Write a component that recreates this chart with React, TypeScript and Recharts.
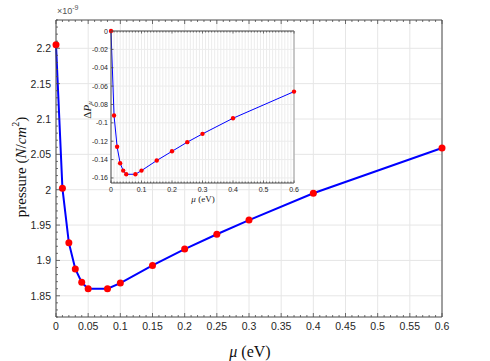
import { CartesianGrid, Label, Line, LineChart, XAxis, YAxis } from "recharts";

// chemical potential values (eV)
const muValues = [0, 0.01, 0.02, 0.03, 0.04, 0.05, 0.08, 0.1, 0.15, 0.2, 0.25, 0.3, 0.4, 0.6];
// pressure, in units of 1e-9 N/cm^2
const pressureValues = [2.205, 2.002, 1.925, 1.888, 1.869, 1.86, 1.86, 1.868, 1.893, 1.916, 1.937, 1.957, 1.995, 2.059];
// relative change of pressure (inset)
const deltaValues = [0, -0.092, -0.126, -0.144, -0.152, -0.156, -0.156, -0.152, -0.141, -0.131, -0.121, -0.112, -0.095, -0.066];

const mainXMajor = [0, 0.05, 0.1, 0.15, 0.2, 0.25, 0.3, 0.35, 0.4, 0.45, 0.5, 0.55, 0.6];
const mainYMajor = [1.85, 1.9, 1.95, 2, 2.05, 2.1, 2.15, 2.2];
const insetXMajor = [0, 0.1, 0.2, 0.3, 0.4, 0.5, 0.6];
const insetYMajor = [-0.16, -0.14, -0.12, -0.1, -0.08, -0.06, -0.04, -0.02, 0];

const data = muValues.map((mu, i) => ({
    mu,
    pressure: pressureValues[i],
    delta: deltaValues[i],
}));

function stepTicks(from: number, to: number, step: number) {
    const n = Math.round((to - from) / step);
    return Array.from({ length: n + 1 }, (_, i) => +(from + i * step).toFixed(4));
}

const mainXMinor = stepTicks(0, 0.6, 0.01);
const mainYMinor = stepTicks(1.82, 2.24, 0.01);
const insetXMinor = stepTicks(0, 0.6, 0.01);

const SANS = "'Liberation Sans', Arial, sans-serif";
const SERIF = "'Liberation Serif', 'Times New Roman', serif";
const AXIS = "#4a4a4a";

type Side = "bottom" | "top" | "left" | "right";

function makeTick(
    side: Side,
    majors: number[],
    opts: { major: number; minor: number; fontSize: number; gap: number; label: boolean }
) {
    return (props: any) => {
        const { x, y, payload } = props;
        const v = payload.value as number;
        const isMajor = majors.some((m) => Math.abs(m - v) < 1e-7);
        const len = isMajor ? opts.major : opts.minor;
        let line = null;
        let text = null;
        const txt = isMajor && opts.label ? String(v) : "";
        if (side === "bottom") {
            line = <line x1={x} x2={x} y1={y} y2={y - len} stroke={AXIS} strokeWidth={0.8} />;
            text = (
                <text x={x} y={y + opts.gap} textAnchor="middle" dominantBaseline="central"
                    fontSize={opts.fontSize} fontFamily={SANS} fill="#262626">{txt}</text>
            );
        } else if (side === "top") {
            line = <line x1={x} x2={x} y1={y} y2={y + len} stroke={AXIS} strokeWidth={0.8} />;
        } else if (side === "left") {
            line = <line x1={x} x2={x + len} y1={y} y2={y} stroke={AXIS} strokeWidth={0.8} />;
            text = (
                <text x={x - opts.gap} y={y} textAnchor="end" dominantBaseline="central"
                    fontSize={opts.fontSize} fontFamily={SANS} fill="#262626">{txt}</text>
            );
        } else {
            line = <line x1={x} x2={x - len} y1={y} y2={y} stroke={AXIS} strokeWidth={0.8} />;
        }
        return (
            <g>
                {line}
                {txt ? text : null}
            </g>
        );
    };
}

function MainChart() {
    const tickOpts = { major: 4, minor: 2, fontSize: 10.5, gap: 9, label: true };
    const mirrorOpts = { ...tickOpts, label: false };
    return (
        <LineChart width={490} height={361} data={data} margin={{ top: 19, right: 47, bottom: 0, left: 0 }}>
            <CartesianGrid stroke="#e6e6e6" horizontalValues={mainYMajor} verticalValues={mainXMajor} />
            <XAxis dataKey="mu" type="number" domain={[0, 0.6]} ticks={mainXMinor} interval={0}
                height={44} tickSize={0} tickMargin={0} stroke={AXIS}
                tick={makeTick("bottom", mainXMajor, tickOpts)}>
                <Label content={() => (
                    <text x={250} y={351} textAnchor="middle" dominantBaseline="central"
                        fontFamily={SERIF} fontSize={16} fill="#111">
                        <tspan fontStyle="italic">μ</tspan> (eV)
                    </text>
                )} />
            </XAxis>
            <XAxis xAxisId="top" orientation="top" dataKey="mu" type="number" domain={[0, 0.6]}
                ticks={mainXMinor} interval={0} height={1} tickSize={0} tickMargin={0} stroke={AXIS}
                tick={makeTick("top", mainXMajor, mirrorOpts)}>
                <Label content={() => (
                    <text x={57} y={14} fontFamily={SANS} fontSize={9} fill="#555">
                        ×10<tspan dy={-4} fontSize={7}>-9</tspan>
                    </text>
                )} />
            </XAxis>
            <YAxis type="number" domain={[1.82, 2.24]} ticks={mainYMinor} interval={0}
                width={56} tickSize={0} tickMargin={0} stroke={AXIS}
                tick={makeTick("left", mainYMajor, { ...tickOpts, gap: 5 })}>
                <Label content={() => (
                    <text x={21} y={167} transform="rotate(-90 21 167)" textAnchor="middle"
                        dominantBaseline="central" fontFamily={SERIF} fontSize={15} fill="#111">
                        pressure (<tspan fontStyle="italic">N</tspan>/<tspan fontStyle="italic">cm</tspan>
                        <tspan dy={-6} fontSize={10}>2</tspan><tspan dy={6}>)</tspan>
                    </text>
                )} />
            </YAxis>
            <YAxis yAxisId="right" orientation="right" type="number" domain={[1.82, 2.24]}
                ticks={mainYMinor} interval={0} width={1} tickSize={0} tickMargin={0} stroke={AXIS}
                tick={makeTick("right", mainYMajor, mirrorOpts)} />
            <Line dataKey="pressure" type="linear" stroke="#0000ff" strokeWidth={2}
                dot={{ r: 3.5, fill: "#ff0000", stroke: "#ff0000", strokeWidth: 0 }}
                activeDot={false} isAnimationActive={false} />
        </LineChart>
    );
}

function InsetChart() {
    const tickOpts = { major: 2.5, minor: 1.5, fontSize: 7, gap: 6, label: true };
    const mirrorOpts = { ...tickOpts, label: false };
    return (
        <LineChart width={225} height={185} data={data} margin={{ top: 5, right: 10, bottom: 0, left: 0 }}>
            <CartesianGrid stroke="#ececec" fill="#ffffff" fillOpacity={1}
                horizontalValues={insetYMajor} verticalValues={insetXMinor} />
            <XAxis dataKey="mu" type="number" domain={[0, 0.6]} ticks={insetXMinor} interval={0}
                height={27} tickSize={0} tickMargin={0} stroke={AXIS}
                tick={makeTick("bottom", insetXMajor, tickOpts)}>
                <Label content={() => (
                    <text x={123} y={174} textAnchor="middle" dominantBaseline="central"
                        fontFamily={SERIF} fontSize={9} fill="#222">
                        <tspan fontStyle="italic">μ</tspan> (eV)
                    </text>
                )} />
            </XAxis>
            <XAxis xAxisId="top" orientation="top" dataKey="mu" type="number" domain={[0, 0.6]}
                ticks={insetXMinor} interval={0} height={1} tickSize={0} tickMargin={0} stroke={AXIS}
                tick={makeTick("top", insetXMajor, mirrorOpts)} />
            <YAxis type="number" domain={[-0.1655, 0]} ticks={insetYMajor} interval={0}
                width={31} tickSize={0} tickMargin={0} stroke={AXIS}
                tick={makeTick("left", insetYMajor, { ...tickOpts, gap: 3 })}>
                <Label content={() => (
                    <text x={7} y={85} transform="rotate(-90 7 85)" textAnchor="middle"
                        dominantBaseline="central" fontFamily={SERIF} fontSize={11} fill="#222">
                        Δ<tspan fontStyle="italic">P</tspan>
                        <tspan dy={3} fontSize={7} fontStyle="italic">μ</tspan>
                    </text>
                )} />
            </YAxis>
            <YAxis yAxisId="right" orientation="right" type="number" domain={[-0.1655, 0]}
                ticks={insetYMajor} interval={0} width={1} tickSize={0} tickMargin={0} stroke="#9a9a9a"
                tick={makeTick("right", insetYMajor, mirrorOpts)} />
            <Line dataKey="delta" type="linear" stroke="#0000ff" strokeWidth={1}
                dot={{ r: 2.2, fill: "#ff0000", stroke: "#ff0000", strokeWidth: 0 }}
                activeDot={false} isAnimationActive={false} />
        </LineChart>
    );
}

export default function App() {
    return (
        <div style={{ position: "absolute", left: 0, top: 0, width: 490, height: 361, background: "#fff" }}>
            <MainChart />
            <div style={{ position: "absolute", left: 80, top: 25 }}>
                <InsetChart />
            </div>
        </div>
    );
}
